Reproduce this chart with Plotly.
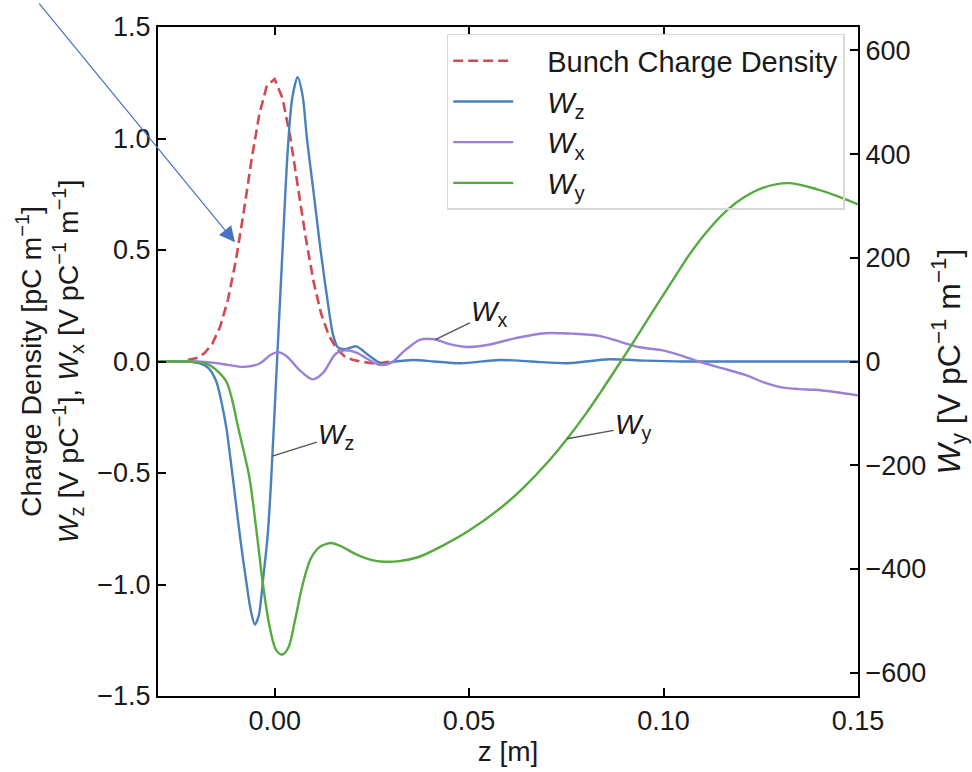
import numpy as np
import plotly.graph_objects as go

# ---- data -------------------------------------------------------------
# bunch charge density [pC/m] (left axis)
z_rho = [-0.030, -0.024, -0.020, -0.018, -0.016, -0.014, -0.012, -0.010, -0.008,
         -0.006, -0.004, -0.002, 0.000, 0.002, 0.004, 0.006, 0.008, 0.010,
         0.012, 0.014, 0.016, 0.018, 0.020, 0.022, 0.025, 0.028, 0.030]
rho = [0.0, 0.0, 0.016, 0.038, 0.081, 0.157, 0.278, 0.451, 0.666,
       0.898, 1.104, 1.238, 1.266, 1.182, 1.007, 0.782, 0.554, 0.358,
       0.211, 0.114, 0.056, 0.023, 0.008, 0.0, -0.008, -0.005, 0.0]

# longitudinal wake W_z [V/pC] (left axis)
z_wz = [-0.030, -0.022, -0.019, -0.017, -0.015, -0.0137, -0.0124, -0.0107, -0.0088,
        -0.0072, -0.0061, -0.0051, -0.0041, -0.0030, -0.0018, -0.0009, 0.0006,
        0.0021, 0.0033, 0.0045, 0.0059, 0.0072, 0.0083, 0.0100, 0.0118, 0.0137,
        0.0150, 0.0162, 0.0180, 0.0210, 0.0240, 0.0276, 0.0310, 0.0357, 0.0410,
        0.0478, 0.0578, 0.0660, 0.0752, 0.0860, 0.0950, 0.1050, 0.1200, 0.1350, 0.1500]
wz = [0.0, 0.0, -0.01, -0.03, -0.09, -0.18, -0.30, -0.53, -0.80,
      -1.00, -1.12, -1.18, -1.14, -0.98, -0.78, -0.53, 0.0,
      0.526, 0.93, 1.18, 1.275, 1.19, 1.00, 0.76, 0.50, 0.26,
      0.12, 0.065, 0.055, 0.068, 0.03, -0.01, 0.0, 0.007, 0.0,
      -0.008, 0.007, 0.0, -0.008, 0.010, 0.004, 0.0, 0.0, 0.0, 0.0]

# horizontal transverse wake W_x [V/pC/m] (left axis)
z_wx = [-0.030, -0.020, -0.016, -0.012, -0.008, -0.004, -0.001, 0.0008, 0.003,
        0.0065, 0.0098, 0.0125, 0.0157, 0.018, 0.021, 0.024, 0.027, 0.030,
        0.0335, 0.0375, 0.041, 0.045, 0.0495, 0.055, 0.062, 0.0695, 0.0765,
        0.0835, 0.0895, 0.0935, 0.0998, 0.104, 0.109, 0.115, 0.121, 0.126,
        0.130, 0.135, 0.139, 0.1445, 0.150]
wx = [0.0, 0.0, -0.005, -0.015, -0.024, -0.010, 0.030, 0.042, 0.025,
      -0.040, -0.080, -0.050, 0.035, 0.050, 0.040, 0.010, -0.015, -0.005,
      0.050, 0.098, 0.100, 0.078, 0.065, 0.075, 0.105, 0.127, 0.125,
      0.115, 0.085, 0.065, 0.050, 0.030, 0.0, -0.030, -0.060, -0.095,
      -0.115, -0.124, -0.127, -0.138, -0.152]

# vertical transverse wake W_y [V/pC/m] (right axis)
z_wy = [-0.030, -0.024, -0.020, -0.017, -0.0145, -0.0124, -0.0109, -0.0094, -0.0079,
        -0.0064, -0.0047, -0.0030, -0.0012, 0.0005, 0.0020, 0.0035, 0.0052, 0.0072,
        0.0093, 0.0115, 0.0135, 0.0146, 0.0170, 0.0210, 0.0250, 0.0280, 0.0320,
        0.0370, 0.0430, 0.0500, 0.0580, 0.0640, 0.0706, 0.0752, 0.0800, 0.0840,
        0.0890, 0.0940, 0.0980, 0.1030, 0.1070, 0.1120, 0.1165, 0.1210, 0.1255,
        0.1320, 0.1395, 0.1450, 0.1500]
wy = [0, 0, -1, -6, -20, -39, -75, -127, -175,
      -228, -325, -430, -515, -558, -565, -552, -500, -430,
      -380, -358, -351, -350, -356, -372, -383, -386, -385,
      -377, -356, -326, -283, -243, -191, -149, -101, -57,
      0, 58, 106, 164, 210, 258, 293, 318, 335,
      344, 332, 318, 303]

# ---- styling ------------------------------------------------------------
FONT = "Liberation Sans, Arial, Helvetica, sans-serif"
TXT = "#1a1a1a"
RED, BLUE, PURPLE, GREEN = "#cf4a52", "#4a80bd", "#9a80d8", "#55aa40"
GAP = "\u2003"  # spacing between legend sample line and its text

fig = go.Figure()
fig.add_trace(go.Scatter(x=z_rho, y=rho, name=GAP + "Bunch Charge Density", mode="lines",
                         line=dict(color=RED, width=2.6, dash="10px,5px"),
                         legendgroup="a"))
fig.add_trace(go.Scatter(x=z_wz, y=wz, name=GAP + "<i>W</i><sub>z</sub>", mode="lines",
                         line=dict(color=BLUE, width=2.4, shape="spline", smoothing=0.8),
                         legendgroup="b"))
fig.add_trace(go.Scatter(x=z_wx, y=wx, name=GAP + "<i>W</i><sub>x</sub>", mode="lines",
                         line=dict(color=PURPLE, width=2.4, shape="spline", smoothing=0.9),
                         legendgroup="c"))
fig.add_trace(go.Scatter(x=z_wy, y=wy, name=GAP + "<i>W</i><sub>y</sub>", mode="lines",
                         line=dict(color=GREEN, width=2.4, shape="spline", smoothing=1.0),
                         yaxis="y2", legendgroup="d"))

axis_common = dict(showgrid=False, zeroline=False, showline=True, linecolor="black",
                   linewidth=2, ticks="inside", ticklen=8, tickwidth=1.6,
                   tickcolor="black", tickfont=dict(family=FONT, size=27, color=TXT))

fig.update_layout(
    width=972, height=772,
    margin=dict(l=158, r=114, t=19, b=72),
    paper_bgcolor="white", plot_bgcolor="white",
    font=dict(family=FONT, size=27, color=TXT),
    xaxis=dict(range=[-0.03, 0.15], tickvals=[0, 0.05, 0.10, 0.15],
               ticktext=["0.00", "0.05", "0.10", "0.15"], mirror="ticks",
               title=dict(text="z [m]", standoff=4, font=dict(size=28)),
               **axis_common),
    yaxis=dict(range=[-1.5, 1.5], tickvals=[-1.5, -1.0, -0.5, 0.0, 0.5, 1.0, 1.5],
               ticktext=["−1.5", "−1.0", "−0.5", "0.0", "0.5", "1.0", "1.5"],
               title=dict(text="Charge Density [pC m<sup>−1</sup>]<br>"
                               "<i>W</i><sub>z</sub> [V pC<sup>−1</sup>], "
                               "<i>W</i><sub>x</sub> [V pC<sup>−1</sup> m<sup>−1</sup>]",
                          standoff=10, font=dict(size=28.5)),
               **axis_common),
    yaxis2=dict(range=[-645, 645], overlaying="y", side="right",
                tickvals=[-600, -400, -200, 0, 200, 400, 600],
                ticktext=["−600", "−400", "−200", "0", "200", "400", "600"],
                title=dict(text="<i>W</i><sub>y</sub> [V pC<sup>−1</sup> m<sup>−1</sup>]",
                           standoff=10, font=dict(size=32)),
                **axis_common),
    legend=dict(x=0.981, y=(700 - 26) / 681, xanchor="right", yanchor="top",
                bgcolor="rgba(255,255,255,0)", bordercolor="#d8d8d8", borderwidth=1.5,
                font=dict(family=FONT, size=29, color=TXT), itemwidth=60,
                traceorder="grouped", tracegroupgap=0),
    showlegend=True,
)

# curve labels with leader lines
def label(text, zx, zs, vals, dx, dy, yref="y"):
    yv = float(np.interp(zx, zs, vals))
    fig.add_annotation(x=zx, y=yv, xref="x", yref=yref, text=text, showarrow=True,
                       arrowhead=0, arrowwidth=1.4, arrowcolor="#555555",
                       ax=dx, ay=dy, font=dict(family=FONT, size=28, color=TXT))

label("<i>W</i><sub>z</sub>", -0.0006, z_wz, wz, 64, -20)
label("<i>W</i><sub>x</sub>", 0.0413, z_wx, wx, 54, -26)
label("<i>W</i><sub>y</sub>", 0.0752, z_wy, wy, 66, -12, yref="y2")

# pointer arrow drawn over the figure
fig.add_annotation(xref="paper", yref="paper", x=(235 - 158) / 700, y=(700 - 238) / 681,
                   text="", showarrow=True, arrowhead=2, arrowsize=2.6, arrowwidth=1.2,
                   arrowcolor="#4472c4", ax=-197, ay=-240, standoff=0)

fig.write_html("out.html")
